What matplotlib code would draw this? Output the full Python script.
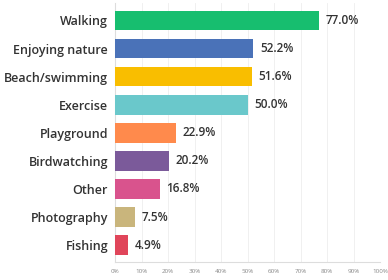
import matplotlib
matplotlib.use('Agg')
import matplotlib.pyplot as plt
from matplotlib.ticker import FuncFormatter

# Veri
activities = ["Walking", "Enjoying nature", "Beach/swimming", "Exercise", "Playground",
              "Birdwatching", "Other", "Photography", "Fishing"]
shares = [77.0, 52.2, 51.6, 50.0, 22.9, 20.2, 16.8, 7.5, 4.9]
colors = ["#17be6f", "#4a72b8", "#f9be00", "#6ac8cb", "#ff8a4c",
          "#7b5a9a", "#d9538d", "#c9b57c", "#e0455a"]
ticks = list(range(0, 101, 10))

plt.rcParams['font.family'] = ['Open Sans', 'DejaVu Sans']

fig = plt.figure(figsize=(3.88, 2.8), dpi=100)
ax = fig.add_axes([115 / 388, 18 / 280, 265 / 388, 259 / 280])

y = list(range(len(activities)))
ax.barh(y, shares, color=colors, height=0.7, zorder=3)
ax.set_ylim(len(activities) - 0.4, -0.62)
ax.set_xlim(0, 100)

for yi, v in zip(y, shares):
    ax.text(v + 2.6, yi, f"{v:.1f}%", va='center', ha='left', fontsize=8.5,
            color='#333333', fontweight='semibold')

ax.set_yticks(y)
ax.set_yticklabels(activities, fontsize=9, color='#333333', fontweight='semibold')
ax.set_xticks(ticks)
ax.xaxis.set_major_formatter(FuncFormatter(lambda v, p: f"{int(v)}%"))
ax.tick_params(axis='x', labelsize=4.5, colors='#888888', length=0, pad=5)
ax.tick_params(axis='y', length=0, pad=5)

ax.grid(axis='x', color='#eeeeee', linewidth=0.6, zorder=0)
for s in ['top', 'right']:
    ax.spines[s].set_visible(False)
for s in ['left', 'bottom']:
    ax.spines[s].set_color('#dddddd')
    ax.spines[s].set_linewidth(0.8)

fig.savefig("out.png", dpi=100)
plt.close(fig)
